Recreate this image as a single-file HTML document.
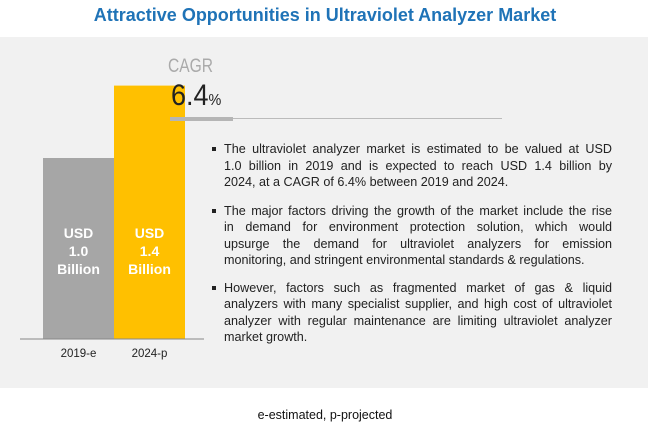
<!DOCTYPE html>
<html><head><meta charset="utf-8"><style>
body{margin:0;width:650px;height:438px;background:#fff;font-family:"Liberation Sans",sans-serif;position:relative;overflow:hidden}
.abs{position:absolute}
#title{left:0;width:650px;top:5px;text-align:center;color:#1f73b7;font-weight:bold;font-size:18px}
#panel{left:0;top:37px;width:648px;height:351px;background:#f1f1f1}
.ln{width:388px;text-align:justify;text-align-last:justify;height:16.5px;line-height:16.5px;white-space:nowrap;font-size:12.6px;color:#222}
.ln.l{text-align-last:left}
.ln span{white-space:normal}
.bul{width:4px;height:4px;background:#222}
.blab{color:#fff;font-weight:bold;font-size:14px;text-align:center;line-height:18px}
.xl{font-size:11.5px;color:#222;text-align:center;width:71px}
</style></head><body>
<div id="title" class="abs">Attractive Opportunities in Ultraviolet Analyzer Market</div>
<div id="panel" class="abs"></div>
<svg class="abs" style="left:0;top:0" width="650" height="438">
<g id="bars"></g>
<line x1="20" y1="339" x2="204" y2="339" stroke="#888" stroke-width="1"/>
</svg>
<div class="abs" style="left:168px;top:56px;font-size:19px;color:#aaa;transform:scaleX(0.82);transform-origin:left">CAGR</div>
<div class="abs" style="left:171px;top:79px;font-size:30px;color:#222;transform:scaleX(0.9);transform-origin:left">6.4<span style="font-size:16px">%</span></div>
<div class="abs" style="left:170px;top:118px;width:332px;height:1px;background:#bbb"></div>
<div class="abs" style="left:170px;top:117px;width:63px;height:4px;background:#b5b5b5"></div>
<div class="abs" style="left:224px;top:141px">
<div class="abs bul" style="left:-12px;top:6px"></div>
<div class="ln"><span>The ultraviolet analyzer market is estimated to be valued at USD</span></div>
<div class="ln"><span>1.0 billion in 2019 and is expected to reach USD 1.4 billion by</span></div>
<div class="ln l"><span>2024, at a CAGR of 6.4% between 2019 and 2024.</span></div>
<div style="height:12px"></div>
<div class="abs bul" style="left:-12px;top:68px"></div>
<div class="ln"><span>The major factors driving the growth of the market include the rise</span></div>
<div class="ln"><span>in demand for environment protection solution, which would</span></div>
<div class="ln"><span>upsurge the demand for ultraviolet analyzers for emission</span></div>
<div class="ln l"><span>monitoring, and stringent environmental standards &amp; regulations.</span></div>
<div style="height:11px"></div>
<div class="abs bul" style="left:-12px;top:145px"></div>
<div class="ln"><span>However, factors such as fragmented market of gas &amp; liquid</span></div>
<div class="ln"><span>analyzers with many specialist supplier, and high cost of ultraviolet</span></div>
<div class="ln"><span>analyzer with regular maintenance are limiting ultraviolet analyzer</span></div>
<div class="ln l"><span>market growth.</span></div>
</div>
<div id="labels"></div>
<div class="abs" style="left:0;width:650px;top:408px;text-align:center;font-size:12.5px;color:#111">e-estimated, p-projected</div>
<script>
const categories=["2019-e","2024-p"];
const values=[1.0,1.4];
const valueLabels=["1.0","1.4"];
const colors=["#a6a6a6","#ffc000"];
const baseY=339, unit=181, barW=71, x0=43;
function yScale(v){return baseY-v*unit;}
function xScale(i){return x0+i*barW;}
const g=document.getElementById('bars');
const lab=document.getElementById('labels');
categories.forEach((c,i)=>{
  const r=document.createElementNS('http://www.w3.org/2000/svg','rect');
  r.setAttribute('x',xScale(i));r.setAttribute('y',yScale(values[i]));
  r.setAttribute('width',barW);r.setAttribute('height',baseY-yScale(values[i]));
  r.setAttribute('fill',colors[i]);
  
  
  g.appendChild(r);
  const t=document.createElement('div');
  t.className='abs blab';t.style.left=xScale(i)+'px';t.style.width=barW+'px';t.style.top='224px';
  t.innerHTML='USD<br>'+valueLabels[i]+'<br>Billion';
  
  
  lab.appendChild(t);
  const x=document.createElement('div');
  x.className='abs xl';x.style.left=xScale(i)+'px';x.style.top='348px';x.textContent=c;
  
  
  lab.appendChild(x);
});
</script>
</body></html>
